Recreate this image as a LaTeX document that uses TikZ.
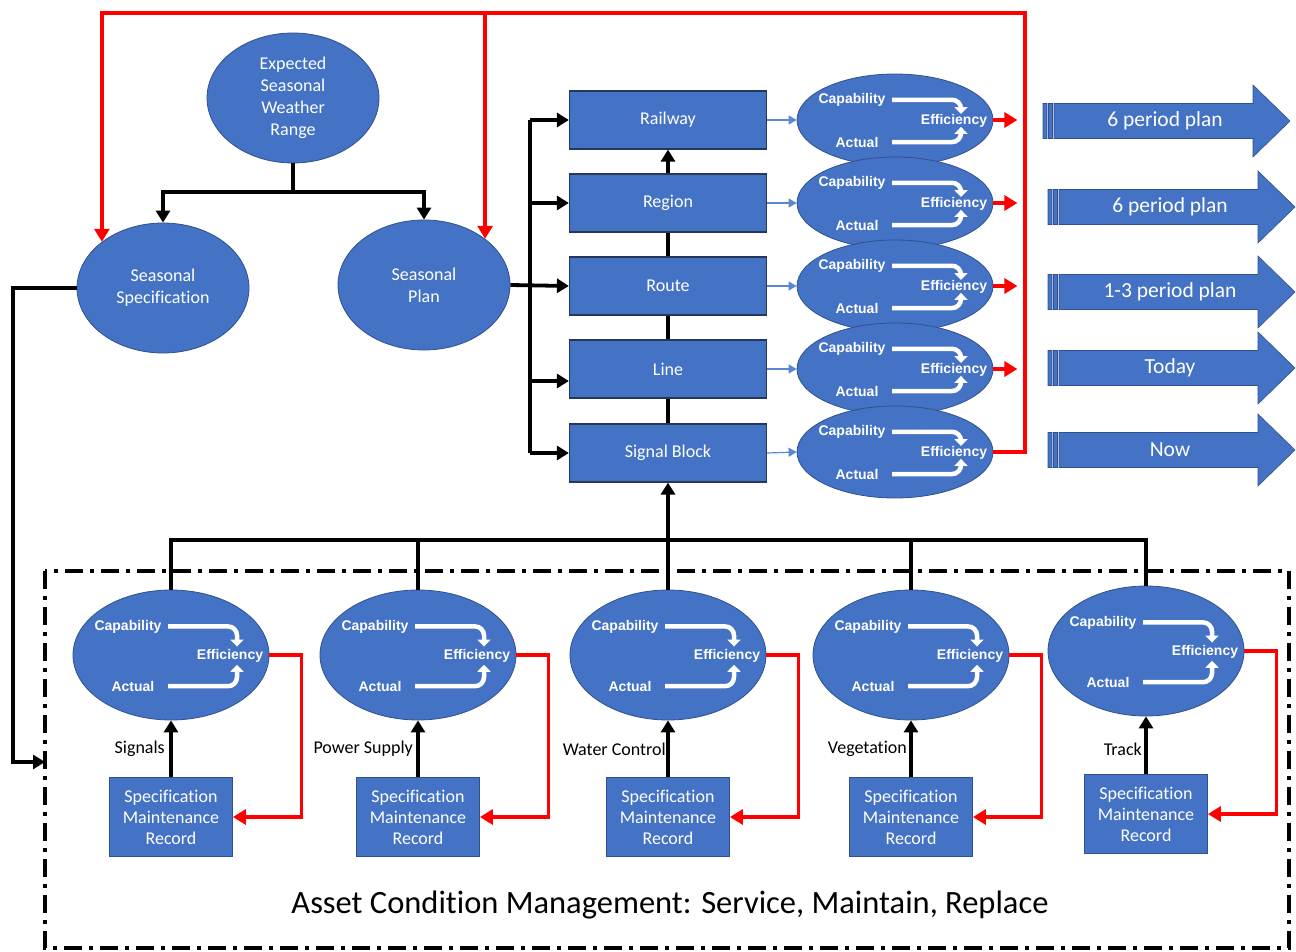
\documentclass[tikz,border=0pt]{standalone}
\usepackage{fontspec}
\setmainfont{Carlito}[Ligatures=NoCommon]
\newfontfamily\arialfont{Liberation Sans}[Ligatures=NoCommon]
\usetikzlibrary{shapes.geometric,arrows.meta,calc}
\definecolor{nodeblue}{HTML}{4472C4}
\definecolor{edgeblue}{HTML}{2F528F}
\definecolor{boxedge}{HTML}{263859}
\definecolor{linkblue}{HTML}{5B87D0}
\definecolor{flowred}{HTML}{FF0000}
\begin{document}
\begin{tikzpicture}[x=1pt,y=-1pt,
  oval/.style={ellipse, fill=nodeblue, draw=edgeblue, line width=0.8pt, inner sep=0pt,
    text=white, align=center, font=\fontsize{18}{22}\selectfont},
  level/.style={rectangle, fill=nodeblue, draw=boxedge, line width=1.2pt,
    minimum width=197pt, minimum height=58pt, text=white, font=\fontsize{18}{21}\selectfont},
  specbox/.style={rectangle, fill=nodeblue, draw=edgeblue, line width=0.8pt,
    minimum width=123pt, minimum height=79pt, inner sep=0pt, text=white, align=center,
    font=\fontsize{18}{21}\selectfont},
  efftext/.style={text=white, inner sep=0pt, font=\arialfont\bfseries\fontsize{14}{16}\selectfont},
  lbl/.style={inner sep=0pt, text=black, font=\fontsize{18}{20}\selectfont},
  plantext/.style={text=white, inner sep=0pt, font=\fontsize{21.5}{24}\selectfont},
  wire/.style={line width=3.8pt, black},
  wirearrow/.style={wire, -{Triangle[width=14pt,length=12pt]}},
  redwire/.style={line width=3.8pt, flowred},
  redarrow/.style={redwire, -{Triangle[width=15pt,length=13pt]}},
  thinlink/.style={line width=1.2pt, linkblue, -{Triangle[width=9pt,length=8pt]}},
  wflow/.style={line width=4.5pt, white, rounded corners=9pt, -{Triangle[width=13pt,length=7pt]}},
  border/.style={line width=3.8pt, black, dash pattern=on 18pt off 7pt on 4pt off 7pt},
  % capability / actual / efficiency ellipse; argument = half height
  effell/.pic={
    \node[oval, minimum width=196pt, minimum height={2*#1}] (-ell) at (0,0) {};
    \node[efftext] (-cap) at (-43,{-0.44*#1}) {Capability};
    \node[efftext] (-act) at (-38,{0.48*#1}) {Actual};
    \draw[wflow] (-3,{-0.44*#1}) -| (66,{-0.13*#1});
    \draw[wflow] (-3,{0.48*#1}) -| (66,{0.15*#1});
    \node[efftext] (-eff) at (59,1) {Efficiency};
  },
  % striped right arrow carrying a planning horizon
  planarrow/.pic={
    \path[fill=nodeblue, draw=edgeblue, line width=0.6pt]
      (0,-17.5) rectangle (4,17.5)
      (5.5,-17.5) rectangle (9.5,17.5)
      (11,-17.5) -- (210,-17.5) -- (210,-36) -- (247,0) -- (210,36) -- (210,17.5) -- (11,17.5) -- cycle;
    \node[plantext] (-txt) at (122,0) {#1};
  }
]
\useasboundingbox (0,0) rectangle (1296,952);

% seasonal inputs
\node[oval, minimum width=172pt, minimum height=130pt] (esw) at (293,98) {Expected\\Seasonal\\Weather\\Range};
\node[oval, minimum width=172pt, minimum height=130pt] (ss) at (163,288) {Seasonal\\Specification};
\node[oval, minimum width=172pt, minimum height=130pt] (sp) at (424,285) {Seasonal\\Plan};

% organisational levels
\node[level] (rw) at (668,120) {Railway};
\node[level] (rg) at (668,203) {Region};
\node[level] (rt) at (668,286) {Route};
\node[level] (ln) at (668,369) {Line};
\node[level] (sb) at (668,453) {Signal Block};

% efficiency ellipses per level
\foreach \i/\y in {1/120,2/203,3/286,4/369,5/452}
  \pic (c\i) at (895,\y) {effell=46};

% planning horizons
\pic (p1) at (1043,121) {planarrow={6 period plan}};
\pic (p2) at (1048,207) {planarrow={6 period plan}};
\pic (p3) at (1048,292) {planarrow={1-3 period plan}};
\pic (p4) at (1048,368) {planarrow={Today}};
\pic (p5) at (1048,450) {planarrow={Now}};

% asset groups
\pic (a1) at (171,655) {effell=65};
\pic (a2) at (418,655) {effell=65};
\pic (a3) at (668,655) {effell=65};
\pic (a4) at (911,655) {effell=65};
\pic (a5) at (1146,651) {effell=65};
\foreach \i/\x/\y in {1/171/817,2/418/817,3/668/817,4/911/817,5/1146/814}
  \node[specbox] (s\i) at (\x,\y) {Specification\\Maintenance\\Record};

\node[lbl, anchor=east] (l1) at ($(s1.north)+(-6,-28)$) {Signals};
\node[lbl, anchor=east] (l2) at ($(s2.north)+(-5,-28)$) {Power Supply};
\node[lbl, anchor=east] (l3) at ($(s3.north)+(-2,-28)$) {Water Control};
\node[lbl, anchor=east] (l4) at ($(s4.north)+(-4,-28)$) {Vegetation};
\node[lbl, anchor=east] (l5) at ($(s5.north)+(-4,-25)$) {Track};

% asset condition management frame
\draw[border] (45,571) rectangle (1289,948);
\node[font=\fontsize{32.5}{36}\selectfont, inner sep=0pt] (acm) at (670,905) {Asset Condition Management: Service, Maintain, Replace};

% seasonal tree
\draw[wirearrow] (esw.south) -- ++(0,29) -| (ss.north);
\draw[wirearrow] (esw.south) -- ++(0,29) -| (sp.north);

% seasonal specification feeds the asset frame
\coordinate (bend) at (13,762);
\coordinate (inb) at (45,762);
\draw[wirearrow] (ss.west) -| (bend) -- (inb);

% seasonal plan feeds every level
\coordinate (bus) at (530,0);
\draw[wire] (bus |- rw.west) -- (bus |- sb.west);
\draw[wirearrow] (sp.east) -- (rt.west);
\draw[wirearrow] (bus |- rw.west) -- (rw.west);
\draw[wirearrow] (bus |- rg.west) -- (rg.west);
\draw[wirearrow] ($(bus |- ln.west)+(0,12)$) -- ($(ln.west)+(0,12)$);
\draw[wirearrow] (bus |- sb.west) -- (sb.west);

% level hierarchy
\draw[wirearrow] (rg.north) -- (rw.south);
\draw[wire] (rt.north) -- (rg.south);
\draw[wire] (ln.north) -- (rt.south);
\draw[wire] (sb.north) -- (ln.south);

% levels to their efficiency ellipses
\draw[thinlink] (rw.east) -- (c1-ell.west);
\draw[thinlink] (rg.east) -- (c2-ell.west);
\draw[thinlink] (rt.east) -- (c3-ell.west);
\draw[thinlink] (ln.east) -- (c4-ell.west);
\draw[thinlink] (sb.east) -- (c5-ell.west);

% efficiency outputs
\foreach \i in {1,...,4}
  \draw[redarrow] (c\i-ell.east) -- ++(24,0);
\coordinate (rtop) at (1025,13);
\draw[redarrow, line join=miter] (c5-ell.east) -| (rtop) -- (ss.north west |- rtop) -- (ss.north west);
\draw[redarrow] (sp.north east |- rtop) -- (sp.north east);

% asset groups roll up into the signal block
\coordinate (hub) at (668,540);
\draw[wire, line join=miter] (a1-ell.north) |- (hub) -| (a5-ell.north);
\draw[wire] (a2-ell.north) -- (a2-ell.north |- hub);
\draw[wire] (a4-ell.north) -- (a4-ell.north |- hub);
\draw[wirearrow] (a3-ell.north) -- (sb.south);

% records feed asset ellipses, efficiency feeds back to records
\foreach \i in {1,...,5} {
  \draw[wirearrow] (s\i.north) -- (a\i-ell.south);
  \draw[redarrow, line join=miter] (a\i-ell.east) -- ++(32,0) |- (s\i.east);
}
\end{tikzpicture}
\end{document}
